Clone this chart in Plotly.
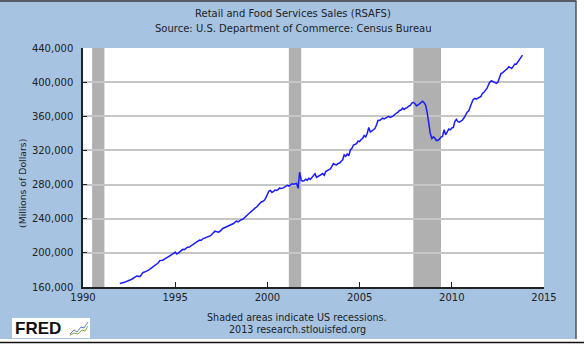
import plotly.graph_objects as go

# Monthly retail and food services sales, millions of dollars, Jan 1992 - Nov 2013
sales_1992 = [164100, 164400, 164800, 165500, 166300, 166800, 167900, 168500, 169400, 170600, 171200, 172900]
sales_1993 = [172600, 172100, 174400, 176800, 177500, 178200, 179100, 180000, 181600, 182900, 184000, 185600]
sales_1994 = [186300, 188400, 190900, 191000, 191400, 192700, 193600, 195100, 195800, 197000, 198500, 199200]
sales_1995 = [201000, 198700, 199800, 201200, 202400, 204100, 203800, 205300, 206600, 206500, 207900, 209100]
sales_1996 = [209800, 211400, 212300, 213900, 215000, 214700, 216500, 217200, 218000, 219300, 219600, 220100]
sales_1997 = [222000, 223700, 225400, 224900, 224100, 225000, 227300, 228600, 229400, 230200, 231000, 232100]
sales_1998 = [232800, 233900, 234400, 236000, 237200, 236400, 237700, 238900, 239300, 241200, 242800, 244900]
sales_1999 = [246200, 247800, 249100, 251200, 252400, 253700, 255900, 257300, 259600, 260200, 261600, 264400]
sales_2000 = [268900, 272400, 273100, 270800, 271900, 273500, 273200, 274100, 276000, 275300, 275800, 276600]
sales_2001 = [278300, 279000, 278100, 279800, 280900, 280300, 280600, 281300, 275600, 294500, 285100, 284000]
sales_2002 = [284600, 286200, 285000, 287400, 286100, 288500, 289700, 292800, 288400, 289600, 291000, 292300]
sales_2003 = [292900, 290800, 295200, 296400, 296900, 298300, 301200, 304600, 303500, 303100, 304800, 305200]
sales_2004 = [307400, 309000, 314800, 313100, 315900, 313700, 320500, 322400, 326300, 327200, 328000, 331000]
sales_2005 = [330400, 332900, 334100, 337600, 335800, 340200, 346800, 341500, 343000, 344100, 345600, 349700]
sales_2006 = [355300, 355000, 356600, 357900, 356900, 358200, 359400, 360000, 358600, 359100, 360500, 362400]
sales_2007 = [363400, 364900, 366800, 367300, 369500, 368000, 369400, 370100, 371900, 372800, 375600, 376400]
sales_2008 = [374800, 372300, 373000, 374600, 376100, 377700, 376000, 372800, 364000, 352100, 339800, 334000]
sales_2009 = [335900, 334200, 331400, 332000, 333100, 335600, 336400, 344300, 338200, 341600, 345000, 344100]
sales_2010 = [346300, 347000, 353900, 356400, 353700, 353200, 354500, 355600, 358300, 362100, 364800, 366200]
sales_2011 = [372100, 375800, 379600, 380900, 380000, 381400, 382500, 383300, 387000, 388100, 390600, 392900]
sales_2012 = [397500, 400600, 401400, 400300, 399200, 398600, 399900, 404700, 410200, 410900, 412500, 413600]
sales_2013 = [415600, 418100, 416700, 415900, 418500, 421300, 421000, 423500, 425200, 428000, 431600]

yearly_sales = [
    (1992, sales_1992), (1993, sales_1993), (1994, sales_1994), (1995, sales_1995),
    (1996, sales_1996), (1997, sales_1997), (1998, sales_1998), (1999, sales_1999),
    (2000, sales_2000), (2001, sales_2001), (2002, sales_2002), (2003, sales_2003),
    (2004, sales_2004), (2005, sales_2005), (2006, sales_2006), (2007, sales_2007),
    (2008, sales_2008), (2009, sales_2009), (2010, sales_2010), (2011, sales_2011),
    (2012, sales_2012), (2013, sales_2013),
]

months = []
sales = []
for year, values in yearly_sales:
    for i, v in enumerate(values):
        months.append(f"{year}-{i + 1:02d}-01")
        sales.append(v)

# NBER recession periods
recession_starts = ["1990-07-01", "2001-03-01", "2007-12-01"]
recession_ends = ["1991-03-01", "2001-11-01", "2009-06-01"]

x_tick_labels = ["1990", "1995", "2000", "2005", "2010", "2015"]
y_tick_values = [160000, 200000, 240000, 280000, 320000, 360000, 400000, 440000]

FRAME_BLUE = "#A6C3E2"
FONT = "DejaVu Sans"

W, H = 584, 345
ML, MR, MT, MB = 83, 40, 48, 58
PW, PH = W - ML - MR, H - MT - MB


def px(x):
    return (x - ML) / PW


def py(y):
    return (H - MB - y) / PH


fig = go.Figure()
fig.add_trace(go.Scatter(
    x=months, y=sales, mode="lines",
    line=dict(color="#1a1aff", width=1.5),
    hoverinfo="x+y", showlegend=False,
))

shapes = []
for s, e in zip(recession_starts, recession_ends):
    shapes.append(dict(type="rect", xref="x", yref="paper", x0=s, x1=e, y0=0, y1=1,
                       fillcolor="#B0B0B0", line=dict(width=0), layer="between"))

# white strips and border lines around the blue frame
shapes += [
    dict(type="rect", xref="paper", yref="paper", x0=px(576), x1=px(W + 2), y0=py(-2), y1=py(H + 2),
         fillcolor="white", line=dict(width=0), layer="above"),
    dict(type="rect", xref="paper", yref="paper", x0=px(-2), x1=px(W + 2), y0=py(H + 2), y1=py(339),
         fillcolor="white", line=dict(width=0), layer="above"),
    dict(type="line", xref="paper", yref="paper", x0=px(0), x1=px(576.5), y0=py(1), y1=py(1),
         line=dict(color="#3a3a3a", width=1.5), layer="above"),
    dict(type="line", xref="paper", yref="paper", x0=px(576), x1=px(576), y0=py(1), y1=py(339),
         line=dict(color="#555555", width=1.5), layer="above"),
    dict(type="line", xref="paper", yref="paper", x0=px(0), x1=px(W), y0=py(342.5), y1=py(342.5),
         line=dict(color="#111111", width=1.5), layer="above"),
    # FRED logo box
    dict(type="rect", xref="paper", yref="paper", x0=px(12), x1=px(90), y0=py(338), y1=py(318),
         fillcolor="white", line=dict(width=0), layer="above"),
    # small chart icon next to the logo
    dict(type="path", xref="paper", yref="paper",
         path=" ".join(
             ("M" if i == 0 else "L") + f" {px(a)},{py(b)}"
             for i, (a, b) in enumerate([(70, 334), (74, 330), (77, 332), (81, 327), (84, 328), (88, 322)])),
         line=dict(color="#5b7fc8", width=1), layer="above"),
    dict(type="path", xref="paper", yref="paper",
         path=" ".join(
             ("M" if i == 0 else "L") + f" {px(a)},{py(b)}"
             for i, (a, b) in enumerate([(70, 335), (74, 333), (78, 334), (82, 330), (85, 331), (88, 326)])),
         line=dict(color="#7fae3c", width=1), layer="above"),
]

txt = dict(family=FONT, size=10, color="#222222")
annotations = [
    dict(text="Retail and Food Services Sales (RSAFS)", x=px(293), y=py(14), xref="paper", yref="paper",
         xanchor="center", yanchor="middle", showarrow=False, font=txt),
    dict(text="Source: U.S. Department of Commerce: Census Bureau", x=px(293), y=py(28), xref="paper",
         yref="paper", xanchor="center", yanchor="middle", showarrow=False, font=txt),
    dict(text="(Millions of Dollars)", x=px(22), y=py(183), xref="paper", yref="paper", textangle=-90,
         xanchor="center", yanchor="middle", showarrow=False, font=dict(family=FONT, size=9.3, color="#222222")),
    dict(text="Shaded areas indicate US recessions.", x=px(297), y=py(317), xref="paper", yref="paper",
         xanchor="center", yanchor="middle", showarrow=False, font=dict(family=FONT, size=9.6, color="#222222")),
    dict(text="2013 research.stlouisfed.org", x=px(297), y=py(329.5), xref="paper", yref="paper",
         xanchor="center", yanchor="middle", showarrow=False, font=dict(family=FONT, size=9.6, color="#222222")),
    dict(text="<b>FRED</b>", x=px(13), y=py(328), xref="paper", yref="paper",
         xanchor="left", yanchor="middle", showarrow=False,
         font=dict(family="Liberation Sans", size=17, color="#111111")),
]

fig.update_layout(
    width=W, height=H,
    margin=dict(l=ML, r=MR, t=MT, b=MB, pad=0),
    paper_bgcolor=FRAME_BLUE, plot_bgcolor="white",
    shapes=shapes, annotations=annotations,
    xaxis=dict(
        type="date", range=["1990-01-01", "2015-01-01"],
        tickvals=[f"{t}-01-01" for t in x_tick_labels], ticktext=x_tick_labels,
        ticks="inside", ticklen=5, tickcolor="#222222", tickwidth=1.2,
        showline=True, linecolor="#222222", linewidth=1.5,
        showgrid=False, zeroline=False,
        tickfont=dict(family=FONT, size=10, color="#222222"),
    ),
    yaxis=dict(
        range=[160000, 440000], tickvals=y_tick_values, tickformat=",d",
        ticks="inside", ticklen=4, tickcolor="#222222", tickwidth=1.2,
        showline=True, linecolor="#222222", linewidth=1.5,
        showgrid=True, gridcolor="#C6C6C6", gridwidth=1.5, zeroline=False,
        tickfont=dict(family=FONT, size=10, color="#222222"),
        ticklabelstandoff=6,
    ),
)

fig.write_html("out.html")
